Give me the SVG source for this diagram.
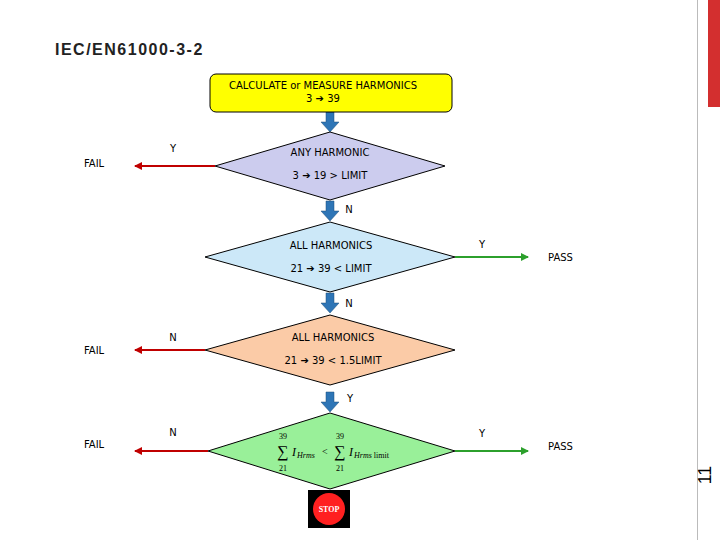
<svg xmlns="http://www.w3.org/2000/svg" width="720" height="540" viewBox="0 0 720 540">
<defs>
<style>
.t{font-family:"DejaVu Sans",sans-serif;font-size:10px;fill:#000}
.d{stroke:#000;stroke-width:1}
.m{font-family:"Liberation Serif",serif;fill:#000}
</style>
<marker id="ar" markerWidth="8" markerHeight="8" refX="7" refY="4" orient="auto" markerUnits="userSpaceOnUse"><path d="M0,0L8,4L0,8z" fill="#c00000"/></marker>
<marker id="ag" markerWidth="8" markerHeight="8" refX="7" refY="4" orient="auto" markerUnits="userSpaceOnUse"><path d="M0,0L8,4L0,8z" fill="#2ca02c"/></marker>
<g id="down"><path d="M-4,0h8v10h5l-9,10l-9,-10h5z" fill="#2e75b6" stroke="#1f4e79" stroke-width="0.5"/></g>
</defs>
<rect width="720" height="540" fill="#fff"/>
<rect x="708" y="0" width="12" height="107" fill="#d32f2f"/>
<line x1="697.5" y1="0" x2="697.5" y2="540" stroke="#bbb"/>
<text transform="translate(711,475) rotate(-90)" font-family="Liberation Sans,sans-serif" font-size="18" fill="#000" text-anchor="middle">11</text>
<text x="55" y="55" font-family="Liberation Sans,sans-serif" font-size="16" font-weight="bold" letter-spacing="1.5" fill="#222">IEC/EN61000-3-2</text>
<g id="connectors">
<use href="#down" x="330" y="112"/>
<use href="#down" x="330" y="201"/>
<use href="#down" x="330" y="293"/>
<use href="#down" x="330" y="392"/>
<line x1="215" y1="166" x2="135" y2="166" stroke="#c00000" stroke-width="2" marker-end="url(#ar)"/>
<line x1="455" y1="257" x2="528" y2="257" stroke="#2ca02c" stroke-width="2" marker-end="url(#ag)"/>
<line x1="205" y1="350" x2="135" y2="350" stroke="#c00000" stroke-width="2" marker-end="url(#ar)"/>
<line x1="208" y1="451" x2="135" y2="451" stroke="#c00000" stroke-width="2" marker-end="url(#ar)"/>
<line x1="455" y1="451" x2="528" y2="451" stroke="#2ca02c" stroke-width="2" marker-end="url(#ag)"/>
<text class="t" x="173" y="152" text-anchor="middle">Y</text>
<text class="t" x="349" y="213" text-anchor="middle">N</text>
<text class="t" x="482" y="248" text-anchor="middle">Y</text>
<text class="t" x="349" y="307" text-anchor="middle">N</text>
<text class="t" x="173" y="341" text-anchor="middle">N</text>
<text class="t" x="350" y="402" text-anchor="middle">Y</text>
<text class="t" x="173" y="436" text-anchor="middle">N</text>
<text class="t" x="482" y="437" text-anchor="middle">Y</text>
</g>
<g id="start"><rect x="210" y="74" width="242" height="38" rx="6" fill="#ffff00" class="d"/>
<text class="t" x="323" y="89" text-anchor="middle">CALCULATE or MEASURE  HARMONICS</text>
<text class="t" x="323" y="102" text-anchor="middle">3 ➔ 39</text></g>
<g id="d1"><polygon points="330,132 445,166 330,200 215,166" fill="#ccccee" class="d"/>
<text class="t" x="330" y="156" text-anchor="middle">ANY HARMONIC</text>
<text class="t" x="330" y="179" text-anchor="middle">3 ➔ 19 &gt; LIMIT</text></g>
<g id="d2"><polygon points="330,222 455,257 330,292 205,257" fill="#cce8f8" class="d"/>
<text class="t" x="331" y="249" text-anchor="middle">ALL HARMONICS</text>
<text class="t" x="331" y="272" text-anchor="middle">21 ➔ 39 &lt; LIMIT</text></g>
<g id="d3"><polygon points="330,315 455,350 330,385 205,350" fill="#fbcba7" class="d"/>
<text class="t" x="333" y="341" text-anchor="middle">ALL HARMONICS</text>
<text class="t" x="333" y="364" text-anchor="middle">21 ➔ 39 &lt; 1.5LIMIT</text></g>
<g id="d4"><polygon points="330,413 455,451 330,489 208,451" fill="#99f099" class="d"/>
<text class="m" x="283" y="439" font-size="8" text-anchor="middle">39</text>
<text class="m" x="283" y="457" font-size="16" text-anchor="middle">∑</text>
<text class="m" x="283" y="471" font-size="8" text-anchor="middle">21</text>
<text class="m" x="292" y="456" font-size="12" font-style="italic">I</text>
<text class="m" x="297" y="458" font-size="8" font-style="italic">Hrms</text>
<text class="m" x="322" y="455" font-size="10">&lt;</text>
<text class="m" x="340" y="439" font-size="8" text-anchor="middle">39</text>
<text class="m" x="340" y="457" font-size="16" text-anchor="middle">∑</text>
<text class="m" x="340" y="471" font-size="8" text-anchor="middle">21</text>
<text class="m" x="349" y="456" font-size="12" font-style="italic">I</text>
<text class="m" x="354" y="458" font-size="8"><tspan font-style="italic">Hrms</tspan> limit</text></g>
<g id="stop"><rect x="308" y="490" width="42" height="38" fill="#000"/>
<circle cx="329" cy="509" r="16" fill="#ff2020"/>
<text x="329" y="512" font-family="Liberation Serif,serif" font-size="8" font-weight="bold" fill="#fff" text-anchor="middle">STOP</text></g>
<g id="fail1"><text class="t" x="84" y="167">FAIL</text></g>
<g id="pass1"><text class="t" x="548" y="261">PASS</text></g>
<g id="fail2"><text class="t" x="84" y="354">FAIL</text></g>
<g id="fail3"><text class="t" x="84" y="448">FAIL</text></g>
<g id="pass2"><text class="t" x="548" y="450">PASS</text></g>
</svg>
